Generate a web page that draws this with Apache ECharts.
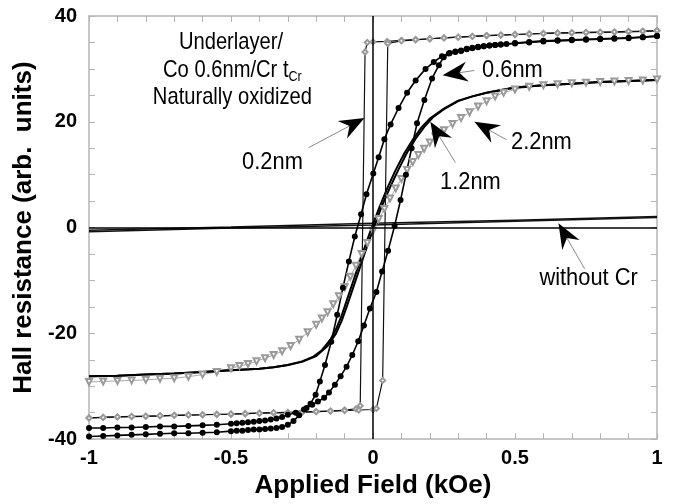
<!DOCTYPE html>
<html><head><meta charset="utf-8">
<script src="https://cdn.jsdelivr.net/npm/echarts@6.0.0/dist/echarts.min.js"></script>
<style>html,body{margin:0;padding:0;background:#fff}#c{width:675px;height:504px}</style>
</head><body><div id="c"></div>
<script>
// ---- data: [field (kOe), Hall resistance (arb. units)] ----
const r02Down = [[1,37.2],[0.95,37.1],[0.9,37.0],[0.85,36.95],[0.8,36.9],[0.75,36.85],[0.7,36.8],[0.65,36.75],[0.6,36.7],[0.55,36.6],[0.5,36.5],[0.45,36.4],[0.4,36.3],[0.35,36.15],[0.3,36.0],[0.25,35.85],[0.2,35.7],[0.15,35.55],[0.1,35.4],[0.05,35.2],[0,35.1],[-0.02,35.0],[-0.028,33.2],[-0.045,-33.7],[-0.06,-34.3],[-0.1,-34.5],[-0.15,-34.7],[-0.2,-34.8],[-0.25,-34.9],[-0.3,-35.0],[-0.35,-35.05],[-0.4,-35.1],[-0.45,-35.2],[-0.5,-35.3],[-0.55,-35.35],[-0.6,-35.4],[-0.65,-35.45],[-0.7,-35.5],[-0.75,-35.6],[-0.8,-35.7],[-0.85,-35.75],[-0.9,-35.8],[-0.95,-35.9],[-1,-36.0]];
const r02Up = [[-1,-36.0],[-0.95,-35.9],[-0.9,-35.8],[-0.85,-35.7],[-0.8,-35.65],[-0.75,-35.6],[-0.7,-35.5],[-0.65,-35.45],[-0.6,-35.4],[-0.55,-35.3],[-0.5,-35.25],[-0.45,-35.2],[-0.4,-35.1],[-0.35,-35.0],[-0.3,-34.95],[-0.25,-34.9],[-0.2,-34.8],[-0.15,-34.7],[-0.1,-34.6],[-0.05,-34.5],[0,-34.4],[0.012,-34.2],[0.034,-28.9],[0.052,34.8],[0.1,35.3],[0.15,35.5],[0.2,35.7],[0.25,35.85],[0.3,36.0],[0.35,36.15],[0.4,36.3],[0.45,36.4],[0.5,36.5],[0.55,36.6],[0.6,36.7],[0.65,36.8],[0.7,36.85],[0.75,36.9],[0.8,36.95],[0.85,37.0],[0.9,37.1],[0.95,37.15],[1,37.25]];
const r06Down = [[1,36.2],[0.95,36.0],[0.9,35.9],[0.85,35.8],[0.8,35.7],[0.75,35.6],[0.7,35.5],[0.65,35.4],[0.6,35.3],[0.55,35.1],[0.5,34.9],[0.47,34.7],[0.45,34.6],[0.43,34.5],[0.41,34.4],[0.39,34.3],[0.37,34.1],[0.35,33.9],[0.33,33.7],[0.31,33.4],[0.29,33.2],[0.267,32.9],[0.243,32.4],[0.214,31.3],[0.185,30.0],[0.15,27.8],[0.12,25.5],[0.09,22.6],[0.062,19.5],[0.04,16.7],[0.02,13.3],[0.001,10.2],[-0.023,6.3],[-0.042,2.5],[-0.064,-1.7],[-0.085,-6.4],[-0.106,-11.4],[-0.126,-16.5],[-0.147,-21.6],[-0.169,-26.0],[-0.187,-29.1],[-0.202,-31.6],[-0.22,-33.3],[-0.243,-34.4],[-0.272,-35.0],[-0.3,-35.4],[-0.32,-35.8],[-0.34,-36.1],[-0.36,-36.3],[-0.38,-36.5],[-0.4,-36.6],[-0.42,-36.7],[-0.44,-36.8],[-0.46,-36.9],[-0.48,-37.0],[-0.5,-37.1],[-0.55,-37.3],[-0.6,-37.4],[-0.65,-37.5],[-0.7,-37.6],[-0.75,-37.6],[-0.8,-37.7],[-0.85,-37.8],[-0.9,-37.8],[-0.95,-37.9],[-1,-37.9]];
const r06Up = [[-1,-39.5],[-0.95,-39.4],[-0.9,-39.3],[-0.85,-39.2],[-0.8,-39.1],[-0.75,-39.0],[-0.7,-38.9],[-0.65,-38.9],[-0.6,-38.8],[-0.55,-38.7],[-0.5,-38.5],[-0.48,-38.4],[-0.46,-38.4],[-0.44,-38.3],[-0.42,-38.2],[-0.4,-38.2],[-0.38,-38.1],[-0.36,-38.0],[-0.34,-37.9],[-0.32,-37.7],[-0.3,-37.3],[-0.28,-36.6],[-0.26,-35.5],[-0.234,-34.1],[-0.214,-33.5],[-0.194,-32.9],[-0.172,-32.2],[-0.155,-31.2],[-0.134,-29.7],[-0.114,-28.1],[-0.093,-26.3],[-0.073,-24.1],[-0.052,-21.5],[-0.032,-18.5],[-0.011,-15.3],[0.012,-12.2],[0.032,-8.3],[0.053,-4.4],[0.076,0.3],[0.097,5.2],[0.116,10.0],[0.136,15.0],[0.155,19.7],[0.181,24.1],[0.208,28.2],[0.232,30.7],[0.249,32.2],[0.27,33.0],[0.29,33.3],[0.31,33.5],[0.33,33.8],[0.35,34.0],[0.37,34.2],[0.39,34.3],[0.41,34.4],[0.43,34.5],[0.45,34.6],[0.5,34.8],[0.55,35.0],[0.6,35.2],[0.65,35.3],[0.7,35.4],[0.75,35.5],[0.8,35.6],[0.85,35.7],[0.9,35.8],[0.95,36.0],[1,36.2]];
const r12Down = [[1,27.9],[0.9,27.7],[0.8,27.5],[0.7,27.2],[0.6,26.9],[0.5,26.5],[0.4,25.5],[0.35,24.8],[0.3,24.0],[0.25,22.5],[0.2,20.6],[0.17,18.9],[0.14,16.6],[0.11,14.0],[0.08,10.9],[0.05,7.4],[0.02,3.5],[-0.01,-0.8],[-0.04,-5.4],[-0.07,-10.2],[-0.09,-13.4],[-0.11,-16.6],[-0.13,-19.2],[-0.15,-21.2],[-0.18,-23.2],[-0.21,-24.4],[-0.25,-25.3],[-0.3,-26.0],[-0.35,-26.4],[-0.4,-26.7],[-0.5,-27.0],[-0.6,-27.3],[-0.7,-27.6],[-0.8,-27.8],[-0.9,-28.0],[-1,-28.1]];
const r12Up = [[-1,-28.1],[-0.9,-28.0],[-0.8,-27.8],[-0.7,-27.6],[-0.6,-27.3],[-0.5,-27.0],[-0.4,-26.7],[-0.35,-26.4],[-0.3,-26.0],[-0.25,-25.4],[-0.2,-24.3],[-0.16,-22.4],[-0.13,-20.0],[-0.11,-17.6],[-0.09,-14.6],[-0.06,-9.8],[-0.03,-5.0],[0,-0.4],[0.03,3.9],[0.06,7.6],[0.09,11.0],[0.12,14.2],[0.15,16.8],[0.18,19.0],[0.21,20.8],[0.25,22.4],[0.3,23.9],[0.35,24.8],[0.4,25.5],[0.5,26.5],[0.6,26.9],[0.7,27.2],[0.8,27.5],[0.9,27.7],[1,27.9]];
const r22 = [[-1,-29.2],[-0.95,-29.1],[-0.9,-29.0],[-0.85,-28.9],[-0.8,-28.8],[-0.75,-28.6],[-0.7,-28.5],[-0.65,-28.2],[-0.6,-27.8],[-0.55,-27.3],[-0.5,-26.6],[-0.47,-26.2],[-0.44,-25.8],[-0.41,-25.3],[-0.38,-24.7],[-0.35,-24.1],[-0.32,-23.4],[-0.29,-22.4],[-0.26,-21.2],[-0.23,-19.8],[-0.2,-18.4],[-0.18,-17.2],[-0.16,-16.0],[-0.14,-14.5],[-0.12,-13.0],[-0.1,-11.3],[-0.08,-9.3],[-0.06,-7.2],[-0.04,-5.0],[-0.02,-2.9],[0,-0.6],[0.02,1.6],[0.04,3.5],[0.06,5.5],[0.08,7.4],[0.1,9.2],[0.12,10.9],[0.14,12.4],[0.16,13.7],[0.18,14.9],[0.2,16.1],[0.22,17.2],[0.25,18.4],[0.28,19.6],[0.31,20.7],[0.34,21.8],[0.37,22.9],[0.4,23.9],[0.43,24.8],[0.46,25.5],[0.5,26.1],[0.55,26.6],[0.6,26.9],[0.65,27.1],[0.7,27.3],[0.75,27.4],[0.8,27.5],[0.85,27.6],[0.9,27.7],[0.95,27.8],[1,28.0]];
const rNoCrDown = [[1,2.1],[0.5,1.4],[0,0.8],[-0.5,0.1],[-1,-0.5]];
const rNoCrUp = [[-1,-0.8],[-0.5,-0.1],[0,0.5],[0.5,1.2],[1,1.9]];

// tick settings
const xMin = -1, xMax = 1, xStep = 0.5;
const yMin = -40, yMax = 40, yStep = 20;

// annotations (data coordinates)
const noteTexts = [
  {text: 'Underlayer/', at: [-0.5, 35.0], cond: true},
  {text: 'Co 0.6nm/Cr t{s|Cr}', at: [-0.495, 29.7], cond: true},
  {text: 'Naturally oxidized', at: [-0.495, 24.7], cond: true},
  {text: '0.2nm', at: [-0.354, 12.3]},
  {text: '0.6nm', at: [0.491, 29.7]},
  {text: '1.2nm', at: [0.343, 8.5]},
  {text: '2.2nm', at: [0.593, 16.0]},
  {text: 'without Cr', at: [0.759, -9.6]}
];
const noteArrows = [
  [[-0.227, 15.1], [-0.03, 20.7]],
  [[0.357, 29.7], [0.245, 28.8]],
  [[0.29, 12.3], [0.202, 20.0]],
  [[0.47, 16.6], [0.357, 20.0]],
  [[0.745, -7.8], [0.653, 0.8]]
];

const frame = '#b4b4b4';
const F = "'Liberation Sans', Arial, sans-serif";
function xAx(pos, labels) {
  return {
    type: 'value', min: xMin, max: xMax, interval: xStep, position: pos,
    axisLine: {show: true, onZero: false, lineStyle: {color: frame, width: 1.5}},
    axisTick: {show: true, inside: true, length: 6, lineStyle: {color: frame}},
    minorTick: {show: true, splitNumber: 5, length: 6, lineStyle: {color: frame}},
    splitLine: {show: false},
    axisLabel: labels ? {color: '#000', fontWeight: 'bold', fontSize: 20, fontFamily: F, margin: 9} : {show: false},
    name: labels ? 'Applied Field (kOe)' : '', nameLocation: 'middle', nameGap: 33,
    nameTextStyle: {color: '#000', fontWeight: 'bold', fontSize: 26, fontFamily: F}
  };
}
function yAx(pos, labels) {
  return {
    type: 'value', min: yMin, max: yMax, interval: yStep, position: pos,
    axisLine: {show: true, onZero: false, lineStyle: {color: frame, width: 1.5}},
    axisTick: {show: true, inside: true, length: 6, lineStyle: {color: frame}},
    minorTick: {show: true, splitNumber: 4, length: 6, lineStyle: {color: frame}},
    splitLine: {show: false},
    axisLabel: labels ? {color: '#000', fontWeight: 'bold', fontSize: 20, fontFamily: F, margin: 12} : {show: false},
    name: labels ? 'Hall resistance (arb.  units)' : '', nameLocation: 'middle', nameGap: 46,
    nameTextStyle: {color: '#000', fontWeight: 'bold', fontSize: 26, fontFamily: F}
  };
}
function ser(name, data, o) {
  return Object.assign({type: 'line', name, data, animation: false, silent: true}, o);
}
const s02 = {symbol: 'emptyDiamond', symbolSize: 5, itemStyle: {color: '#999'}, lineStyle: {color: '#111', width: 1.2}};
const s06 = {symbol: 'circle', symbolSize: 6, itemStyle: {color: '#000'}, lineStyle: {color: '#000', width: 1.6}};
const s12 = {showSymbol: false, lineStyle: {color: '#000', width: 2}};
const s22 = {symbol: 'emptyTriangle', symbolRotate: 180, symbolSize: 6, itemStyle: {color: '#9a9a9a'}, lineStyle: {color: '#aaa', width: 1}};
const sNo = {showSymbol: false, lineStyle: {color: '#111', width: 1.5}};

const chart = echarts.init(document.getElementById('c'), null, {renderer: 'canvas'});
chart.setOption({
  backgroundColor: '#fff',
  animation: false,
  grid: {left: 89, right: 18, top: 16, bottom: 62},
  xAxis: [xAx('bottom', true), xAx('top', false)],
  yAxis: [yAx('left', true), yAx('right', false)],
  series: [
    ser('without Cr down', rNoCrDown, Object.assign({}, sNo, {
      markLine: {silent: true, symbol: 'none', animation: false, label: {show: false},
        lineStyle: {color: '#000', width: 1.5, type: 'solid'}, data: [{xAxis: 0}, {yAxis: 0}]}
    })),
    ser('without Cr up', rNoCrUp, sNo),
    ser('2.2nm', r22, s22),
    ser('1.2nm down', r12Down, s12),
    ser('1.2nm up', r12Up, s12),
    ser('0.2nm down', r02Down, s02),
    ser('0.2nm up', r02Up, s02),
    ser('0.6nm down', r06Down, s06),
    ser('0.6nm up', r06Up, s06)
  ]
});

// annotation graphics positioned from data coordinates
const toPx = p => chart.convertToPixel({xAxisIndex: 0, yAxisIndex: 0}, p);
const g = [];
noteTexts.forEach(n => {
  const p = toPx(n.at);
  g.push({type: 'text', x: p[0], y: p[1], z: 50, silent: true,
    scaleX: n.cond ? 0.84 : 0.95, scaleY: 1,
    style: {
      text: n.text, fill: '#000', align: 'center', verticalAlign: 'middle',
      font: n.cond ? "24px 'Liberation Sans'" : "23px 'Liberation Sans'",
      lineHeight: 28,
      rich: {s: {fontSize: 15, lineHeight: 16, verticalAlign: 'bottom', fontFamily: "'Liberation Sans'"}}
    }});
});
noteArrows.forEach(a => {
  const t0 = toPx(a[0]), t1 = toPx(a[1]);
  let dx = t1[0] - t0[0], dy = t1[1] - t0[1];
  const len = Math.hypot(dx, dy); dx /= len; dy /= len;
  const nx = -dy, ny = dx, L = 25, W = 10, N = 8;
  g.push({type: 'line', z: 50, silent: true, shape: {x1: t0[0], y1: t0[1], x2: t1[0] - dx * 12, y2: t1[1] - dy * 12},
    style: {stroke: '#8a8a8a', lineWidth: 1}});
  g.push({type: 'polygon', z: 51, silent: true, shape: {points: [
    [t1[0], t1[1]],
    [t1[0] - L * dx + W * nx, t1[1] - L * dy + W * ny],
    [t1[0] - (L - N) * dx, t1[1] - (L - N) * dy],
    [t1[0] - L * dx - W * nx, t1[1] - L * dy - W * ny]
  ]}, style: {fill: '#000'}});
});
chart.setOption({graphic: g});
</script></body></html>
